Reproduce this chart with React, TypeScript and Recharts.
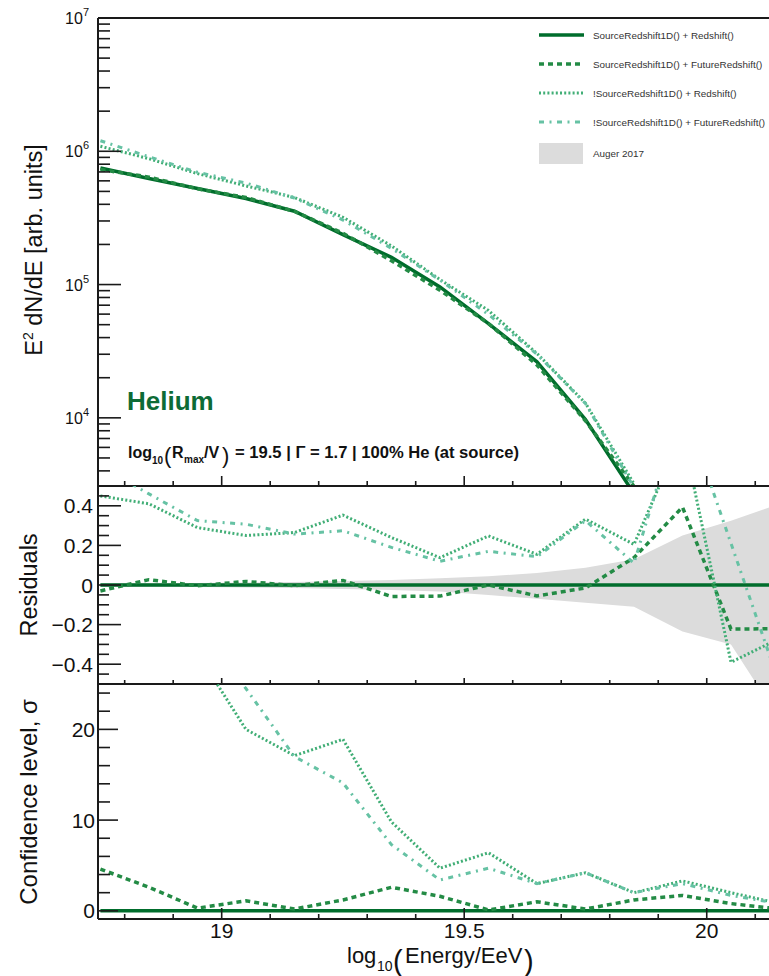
import React from 'react';
import { LineChart, ComposedChart, Line, Area, XAxis, YAxis } from 'recharts';

// ---------- data ----------
const energy = [18.75, 18.85, 18.95, 19.05, 19.15, 19.25, 19.35, 19.45, 19.55, 19.65, 19.75, 19.85, 19.95, 20.05, 20.15];

// E^2 dN/dE (arb. units)
const fluxSrcRedshift = [7.5e5, 6.24e5, 5.25e5, 4.42e5, 3.55e5, 2.37e5, 1.6e5, 9.6e4, 5.1e4, 2.63e4, 9.7e3, 2.7e3, null, null, null];
const fluxSrcFuture = [7.3e5, 6.4e5, 5.23e5, 4.5e5, 3.54e5, 2.43e5, 1.51e5, 9.06e4, 5.1e4, 2.49e4, 9.5e3, 3.06e3, null, null, null];
const fluxNoSrcRedshift = [1.09e6, 8.8e5, 6.8e5, 5.5e5, 4.5e5, 3.2e5, 1.95e5, 1.09e5, 6.4e4, 3.04e4, 1.29e4, 3.2e3, null, null, null];
const fluxNoSrcFuture = [1.2e6, 9.1e5, 6.96e5, 5.78e5, 4.46e5, 3.05e5, 1.87e5, 1.08e5, 5.96e4, 3.0e4, 1.28e4, 3.0e3, null, null, null];

// Residuals
const resSrcRedshift = [0, 0, 0, 0, 0, 0, 0, 0, 0, 0, 0, 0, 0, 0, 0];
const resSrcFuture = [-0.03, 0.027, -0.004, 0.018, -0.003, 0.023, -0.058, -0.056, 0.0, -0.055, -0.015, 0.138, 0.393, -0.223, -0.22];
const resNoSrcRedshift = [0.45, 0.41, 0.29, 0.25, 0.265, 0.353, 0.24, 0.138, 0.248, 0.155, 0.333, 0.205, 0.77, -0.39, -0.27];
const resNoSrcFuture = [0.6, 0.46, 0.325, 0.307, 0.257, 0.274, 0.19, 0.12, 0.17, 0.143, 0.325, 0.11, 0.92, 0.21, -0.5];
const augerLow = [-0.01, -0.01, -0.01, -0.012, -0.015, -0.02, -0.025, -0.033, -0.05, -0.07, -0.09, -0.11, -0.235, -0.3, -0.68];
const augerHigh = [0.01, 0.01, 0.01, 0.012, 0.015, 0.02, 0.025, 0.034, 0.044, 0.061, 0.087, 0.13, 0.25, 0.325, 0.41];

// Confidence level (sigma)
const sigSrcRedshift = [0, 0, 0, 0, 0, 0, 0, 0, 0, 0, 0, 0, 0, 0, 0];
const sigSrcFuture = [4.6, 2.6, 0.3, 1.1, 0.2, 1.2, 2.6, 1.6, 0.1, 1.0, 0.2, 1.2, 1.7, 0.8, 0.2];
const sigNoSrcRedshift = [40, 35, 28.4, 20.0, 17.1, 18.9, 9.8, 4.7, 6.4, 3.0, 4.2, 2.0, 3.3, 2.0, 0.8];
const sigNoSrcFuture = [45, 38, 31, 24.5, 17.0, 14.1, 7.3, 3.4, 4.7, 3.0, 4.2, 2.0, 3.0, 1.7, 0.8];

// series
const seriesKeys = ['s1', 's2', 's3', 's4'];
const seriesNames = [
  'SourceRedshift1D() + Redshift()',
  'SourceRedshift1D() + FutureRedshift()',
  '!SourceRedshift1D() + Redshift()',
  '!SourceRedshift1D() + FutureRedshift()',
];
const bandName = 'Auger 2017';

// ticks
const xTicks = [18.8, 18.9, 19.0, 19.1, 19.2, 19.3, 19.4, 19.5, 19.6, 19.7, 19.8, 19.9, 20.0, 20.1, 20.2];
const xMajorTicks = [19, 19.5, 20];
const xMajorLabels = ['19', '19.5', '20'];

const fluxTicks = [
  4e3, 5e3, 6e3, 7e3, 8e3, 9e3,
  1e4, 2e4, 3e4, 4e4, 5e4, 6e4, 7e4, 8e4, 9e4,
  1e5, 2e5, 3e5, 4e5, 5e5, 6e5, 7e5, 8e5, 9e5,
  1e6, 2e6, 3e6, 4e6, 5e6, 6e6, 7e6, 8e6, 9e6, 1e7,
];
const fluxMajorTicks = [1e4, 1e5, 1e6, 1e7];
const fluxMajorExponents = ['4', '5', '6', '7'];

const resTicks = [-0.45, -0.4, -0.35, -0.3, -0.25, -0.2, -0.15, -0.1, -0.05, 0, 0.05, 0.1, 0.15, 0.2, 0.25, 0.3, 0.35, 0.4, 0.45];
const resMajorTicks = [-0.4, -0.2, 0, 0.2, 0.4];
const resMajorLabels = ['\u22120.4', '\u22120.2', '0', '0.2', '0.4'];

const sigTicks = [0, 2, 4, 6, 8, 10, 12, 14, 16, 18, 20, 22, 24];
const sigMajorTicks = [0, 10, 20];
const sigMajorLabels = ['0', '10', '20'];

// ---------- style ----------
const FONT = '"Liberation Sans", Arial, Helvetica, sans-serif';
const AXIS = '#1a1a1a';
const TXT = '#111';
const colors = ['#006d2c', '#238b45', '#41ae76', '#66c2a4'];
const dashes = [undefined, '5 4', '2 2.2', '5 5.5 2 5.5'];
const widths = [3.5, 3.5, 3, 3];
const BAND = '#dcdcdc';

const CHART_W = 840;
const Y_AXIS_W = 98;
const X_DOMAIN: [number, number] = [18.745, 20.25];

const fluxData = energy.map((e, i) => ({
  e, s1: fluxSrcRedshift[i], s2: fluxSrcFuture[i], s3: fluxNoSrcRedshift[i], s4: fluxNoSrcFuture[i],
}));
const resData = energy.map((e, i) => ({
  e, s1: resSrcRedshift[i], s2: resSrcFuture[i], s3: resNoSrcRedshift[i], s4: resNoSrcFuture[i],
  band: [augerLow[i], augerHigh[i]],
}));
const sigData = energy.map((e, i) => ({
  e, s1: sigSrcRedshift[i], s2: sigSrcFuture[i], s3: sigNoSrcRedshift[i], s4: sigNoSrcFuture[i],
}));

const near = (a: number, b: number) => Math.abs(a - b) <= 1e-6 * Math.max(1, Math.abs(b));

const makeXTick = (majorLen: number, minorLen: number, showLabels: boolean) => (props: any) => {
  const { x, y, payload } = props;
  const idx = xMajorTicks.findIndex((m) => near(payload.value, m));
  const len = idx >= 0 ? majorLen : minorLen;
  return (
    <g>
      <line x1={x} x2={x} y1={y} y2={y - len} stroke={AXIS} strokeWidth={1.6} />
      {showLabels && idx >= 0 && (
        <text x={x} y={y + 19} textAnchor="middle" fontSize={21} fill={TXT} fontFamily={FONT}>
          {xMajorLabels[idx]}
        </text>
      )}
    </g>
  );
};

const makeYTick = (
  majors: number[],
  labels: React.ReactNode[],
  majorLen: number,
  minorLen: number,
  fontSize: number,
  gap: number,
  dy: number,
) => (props: any) => {
  const { x, y, payload } = props;
  const idx = majors.findIndex((m) => near(payload.value, m));
  const len = idx >= 0 ? majorLen : minorLen;
  return (
    <g>
      <line x1={x} x2={x + len} y1={y} y2={y} stroke={AXIS} strokeWidth={1.6} />
      {idx >= 0 && (
        <text x={x - gap} y={y + dy} textAnchor="end" fontSize={fontSize} fill={TXT} fontFamily={FONT}>
          {labels[idx]}
        </text>
      )}
    </g>
  );
};

const fluxLabels = fluxMajorExponents.map((ex) => (
  <>
    10<tspan dy={-8} fontSize={11}>{ex}</tspan>
  </>
));

const fluxTick = makeYTick(fluxMajorTicks, fluxLabels, 23, 12, 16, 9, 6);
const resTick = makeYTick(resMajorTicks, resMajorLabels, 23, 11, 21, 5, 7.5);
const sigTick = makeYTick(sigMajorTicks, sigMajorLabels, 20, 12, 21, 3, 7.5);

const axisLine = { stroke: AXIS, strokeWidth: 2 };

const renderLines = () =>
  seriesKeys.map((k, i) => (
    <Line
      key={k}
      dataKey={k}
      name={seriesNames[i]}
      type="linear"
      stroke={colors[i]}
      strokeWidth={widths[i]}
      strokeDasharray={dashes[i]}
      dot={false}
      activeDot={false}
      isAnimationActive={false}
      connectNulls={false}
    />
  ));

const Legend = () => {
  const rows = [35, 64, 93, 122];
  return (
    <g fontFamily={FONT}>
      {seriesNames.map((n, i) => (
        <g key={n}>
          <line x1={539} x2={584} y1={rows[i]} y2={rows[i]} stroke={colors[i]} strokeWidth={i < 2 ? 3.5 : 3} strokeDasharray={dashes[i]} />
          <text x={593} y={rows[i] + 3.5} fontSize={9.9} fill="#333">{n}</text>
        </g>
      ))}
      <rect x={539} y={143} width={44} height={21} fill={BAND} />
      <text x={593} y={157} fontSize={9.9} fill="#333">{bandName}</text>
    </g>
  );
};

export default function App() {
  return (
    <div style={{ position: 'absolute', left: 0, top: 0, width: 769, height: 976, overflow: 'hidden', background: '#fff', fontFamily: FONT }}>
      {/* Spectrum panel: plot y 18..486 */}
      <div style={{ position: 'absolute', left: 0, top: 0 }}>
        <LineChart width={CHART_W} height={500} data={fluxData} margin={{ top: 0, right: 12, bottom: 0, left: 0 }}>
          <XAxis dataKey="e" type="number" domain={X_DOMAIN} allowDataOverflow ticks={xTicks} interval={0}
            height={14} tickSize={0} tickMargin={0} tickLine={false} axisLine={axisLine} tick={makeXTick(10, 5, false)} />
          <XAxis xAxisId="top" orientation="top" dataKey="e" type="number" domain={X_DOMAIN} allowDataOverflow
            ticks={xTicks} interval={0} height={18} tickSize={0} tickMargin={0} tick={() => <g />} tickLine={false} axisLine={axisLine} />
          <YAxis type="number" scale="log" domain={[3080, 1e7]} allowDataOverflow ticks={fluxTicks} interval={0}
            width={Y_AXIS_W} tickSize={0} tickMargin={0} tickLine={false} axisLine={axisLine} tick={fluxTick} />
          {renderLines()}
        </LineChart>
      </div>

      {/* Residual panel: plot y 486..684 */}
      <div style={{ position: 'absolute', left: 0, top: 476 }}>
        <ComposedChart width={CHART_W} height={218} data={resData} margin={{ top: 10, right: 12, bottom: 0, left: 0 }}>
          <XAxis dataKey="e" type="number" domain={X_DOMAIN} allowDataOverflow ticks={xTicks} interval={0}
            height={10} tickSize={0} tickMargin={0} tickLine={false} axisLine={axisLine} tick={makeXTick(6, 4, false)} />
          <YAxis type="number" domain={[-0.5, 0.5]} allowDataOverflow ticks={resTicks} interval={0}
            width={Y_AXIS_W} tickSize={0} tickMargin={0} tickLine={false} axisLine={axisLine} tick={resTick} />
          <Area dataKey="band" name={bandName} type="linear" stroke="none" fill={BAND} fillOpacity={1}
            dot={false} activeDot={false} isAnimationActive={false} />
          {renderLines()}
        </ComposedChart>
      </div>

      {/* Confidence panel: plot y 684..919 */}
      <div style={{ position: 'absolute', left: 0, top: 674 }}>
        <LineChart width={CHART_W} height={302} data={sigData} margin={{ top: 10, right: 12, bottom: 0, left: 0 }}>
          <XAxis dataKey="e" type="number" domain={X_DOMAIN} allowDataOverflow ticks={xTicks} interval={0}
            height={57} tickSize={0} tickMargin={0} tickLine={false} axisLine={axisLine} tick={makeXTick(11, 5, true)} />
          <YAxis type="number" domain={[-0.9, 25]} allowDataOverflow ticks={sigTicks} interval={0}
            width={Y_AXIS_W} tickSize={0} tickMargin={0} tickLine={false} axisLine={axisLine} tick={sigTick} />
          {renderLines()}
        </LineChart>
      </div>

      {/* Titles, annotations, legend */}
      <svg width={769} height={976} style={{ position: 'absolute', left: 0, top: 0, pointerEvents: 'none' }} fontFamily={FONT}>
        <text transform="translate(42,250) rotate(-90)" textAnchor="middle" fontSize={23.5} fill={TXT}>
          E<tspan dy={-9} fontSize={14}>2</tspan><tspan dy={9}> dN/dE [arb. units]</tspan>
        </text>
        <text transform="translate(37,585) rotate(-90)" textAnchor="middle" fontSize={23.5} fill={TXT}>Residuals</text>
        <text transform="translate(37,802) rotate(-90)" textAnchor="middle" fontSize={24} fill={TXT}>Confidence level, σ</text>

        <text x={347} y={963} fontSize={22} fill={TXT}>log</text>
        <text x={377} y={971} fontSize={14} fill={TXT}>10</text>
        <text x={393} y={971} fontSize={29} fill={TXT}>(</text>
        <text x={405} y={963} fontSize={22} fill={TXT}>Energy/EeV</text>
        <text x={524} y={971} fontSize={29} fill={TXT}>)</text>

        <text x={127} y={410} fontSize={26} fontWeight="bold" fill="#0d6b36">Helium</text>

        <g fontWeight="bold" fill={TXT}>
          <text x={128} y={458} fontSize={16}>log</text>
          <text x={152} y={464} fontSize={10}>10</text>
          <text x={164} y={463} fontSize={22} fontWeight="normal">(</text>
          <text x={172} y={458} fontSize={16}>R</text>
          <text x={184} y={463} fontSize={10}>max</text>
          <text x={204} y={458} fontSize={16}>/V</text>
          <text x={222} y={463} fontSize={22} fontWeight="normal">)</text>
          <text x={235} y={458} fontSize={16.6}>= 19.5 | Γ = 1.7 | 100% He (at source)</text>
        </g>

        <Legend />
      </svg>
    </div>
  );
}
